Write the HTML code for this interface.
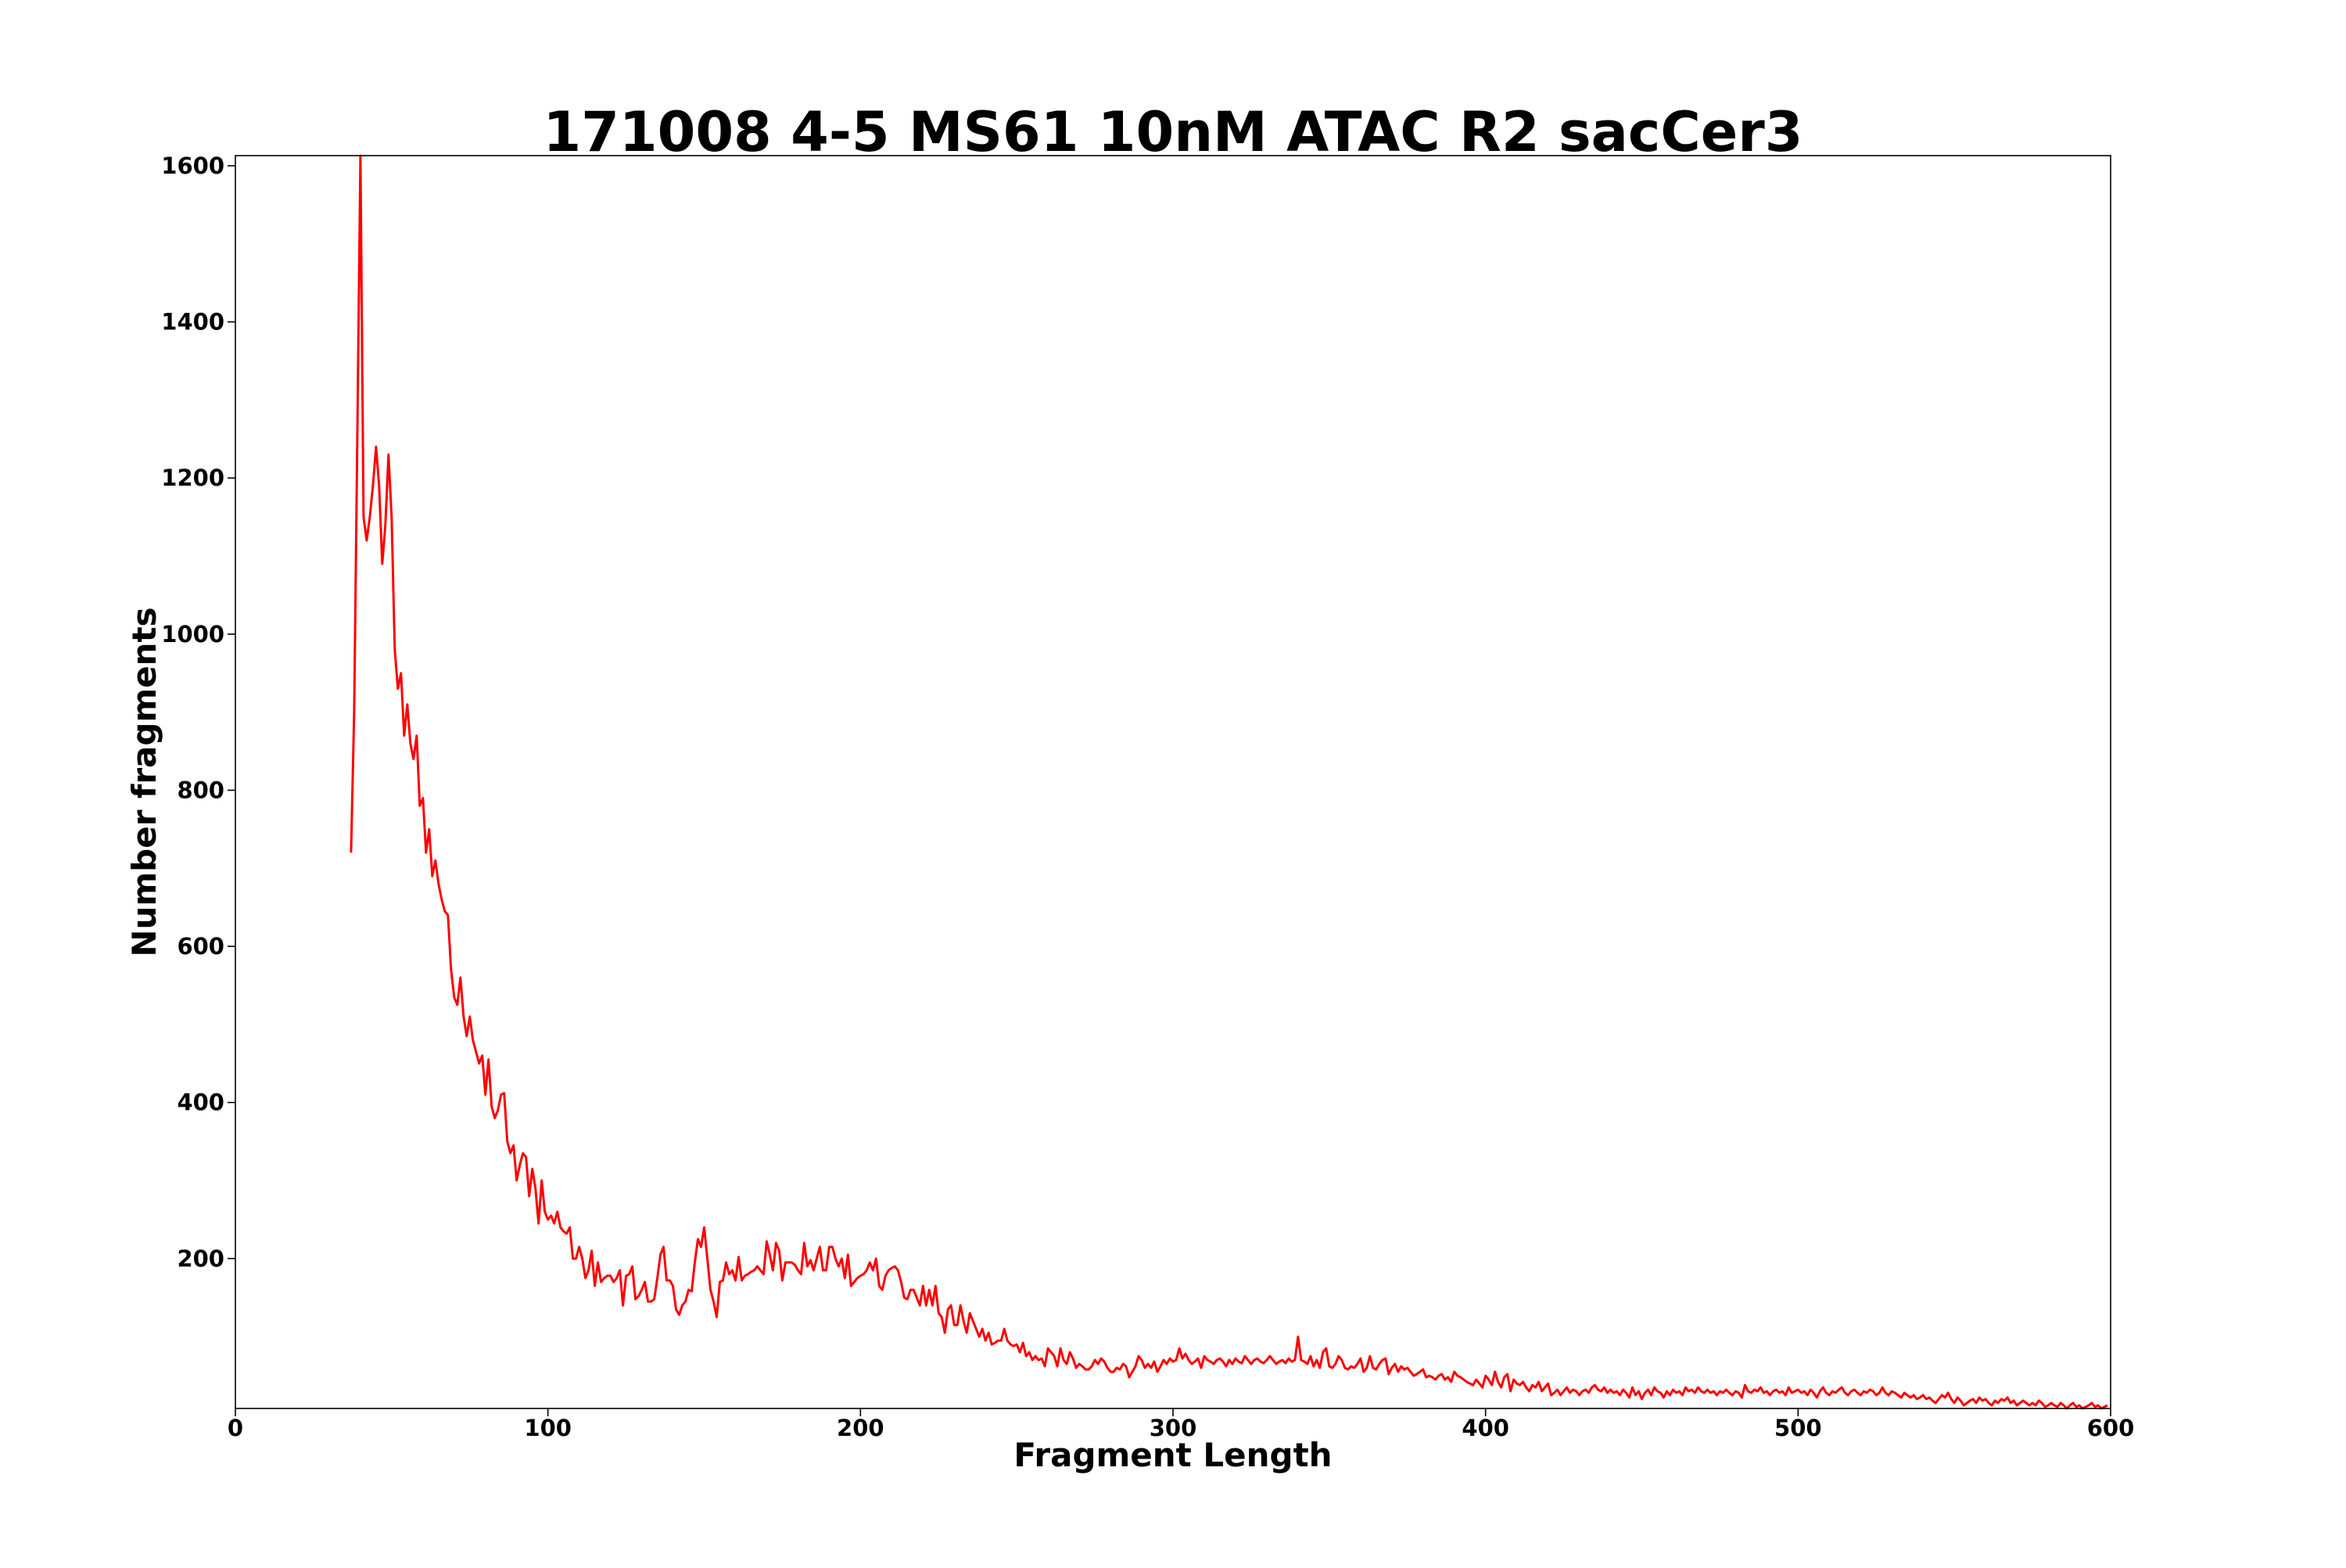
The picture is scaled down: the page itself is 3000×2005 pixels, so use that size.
<!DOCTYPE html>
<html><head><meta charset="utf-8"><style>
html,body{margin:0;padding:0;background:#fff;}
svg text{font-family:"DejaVu Sans","Liberation Sans",sans-serif;font-weight:bold;fill:#000;}
</style></head><body>
<svg id="chart" width="3000" height="2000" viewBox="0 0 3000 2000" xmlns="http://www.w3.org/2000/svg">
<rect width="3000" height="2000" fill="#fff"/>
<text x="1500" y="193" font-size="70" text-anchor="middle">171008 4-5 MS61 10nM ATAC R2 sacCer3</text>
<text x="1500" y="1875" font-size="42" text-anchor="middle">Fragment Length</text>
<text x="0" y="0" font-size="42" text-anchor="middle" transform="translate(199,1000) rotate(-90)">Number fragments</text>
<g id="plot"></g>
</svg>
<script>
const startLength = 37;
const counts = [720,900,1250,1613,1150,1120,1150,1190,1240,1190,1090,1140,1230,1150,980,930,950,870,910,860,840,870,780,790,720,750,690,710,680,660,645,640,570,535,525,560,510,485,510,480,465,450,460,410,455,395,380,390,410,412,350,335,345,300,320,335,330,280,315,290,245,300,260,250,255,245,260,240,235,232,240,200,200,215,200,175,185,210,165,195,170,175,178,178,170,175,185,140,178,180,190,148,152,160,170,145,145,148,175,205,215,172,172,165,135,128,140,145,160,158,195,225,215,240,200,160,145,125,170,172,195,180,185,172,202,172,178,180,183,185,190,185,180,222,205,185,220,210,172,195,195,195,192,185,180,220,190,198,185,200,215,185,185,215,215,200,190,200,175,205,165,170,175,178,180,185,195,185,200,165,160,178,185,188,190,185,170,150,148,160,160,150,140,165,140,160,140,165,130,125,105,135,140,115,115,140,120,105,130,120,110,100,110,95,105,90,92,95,95,110,95,90,88,90,80,92,75,80,70,75,70,72,62,85,
80,75,62,85,70,65,80,72,60,65,62,58,58,62,70,65,72,68,60,55,55,60,58,65,62,48,55,62,75,70,60,65,60,68,55,62,70,65,72,68,
70,85,72,78,70,65,68,72,60,75,70,68,65,70,72,68,62,70,65,72,68,66,75,70,65,70,72,68,66,70,75,70,65,68,70,66,72,68,70,100,
70,68,65,75,62,70,60,80,85,62,60,65,75,70,60,58,62,60,65,72,55,60,75,60,58,65,70,72,52,60,65,55,62,58,60,55,50,52,55,58,48,50,48,45,50,52,45,48,42,55,50,48,45,42,40,38,45,40,35,50,
45,38,55,42,35,48,52,30,45,40,38,42,35,30,38,35,42,30,35,40,25,28,32,25,30,35,28,32,30,25,30,32,28,35,38,32,30,35,28,32,28,30,25,32,28,22,35,25,30,20,
28,32,25,35,30,28,22,30,25,32,28,30,25,35,30,32,28,35,30,28,32,28,30,25,30,28,32,28,25,30,28,22,38,30,28,32,30,35,28,30,25,30,32,28,30,25,35,28,30,32,
28,30,25,32,28,22,30,35,28,25,30,28,32,35,28,25,30,32,28,25,30,28,32,30,25,28,35,28,25,30,28,25,22,28,25,22,25,20,22,25,20,22,18,15,20,25,22,28,20,15,
22,18,12,15,18,20,15,22,18,20,15,12,18,15,20,18,22,15,18,12,15,18,15,12,15,12,18,15,10,12,15,12,10,15,12,8,12,15,10,12,8,10,12,15,10,12,8,10,12];
const xTicks = [0,100,200,300,400,500,600];
const yTicks = [200,400,600,800,1000,1200,1400,1600];

const L=301,T=199,W=2398,H=1602;
const xMin=0,xMax=600;
const yMin=Math.min(...counts), yMax=Math.max(...counts);
const xs=v=>L+(v-xMin)/(xMax-xMin)*W;
const ys=v=>T+H-(v-yMin)/(yMax-yMin)*H;
const NS='http://www.w3.org/2000/svg';
const g=document.getElementById('plot');
function mk(tag,attrs){const e=document.createElementNS(NS,tag);for(const k in attrs)e.setAttribute(k,attrs[k]);return e;}

const pts=counts.map((c,i)=>xs(startLength+i).toFixed(1)+','+ys(c).toFixed(1)).join(' ');
const line=mk('polyline',{points:pts,fill:'none',stroke:'#ff0000','stroke-width':3,'stroke-linejoin':'round'});


g.appendChild(line);

const frame=mk('rect',{x:L,y:T,width:W,height:H,fill:'none',stroke:'#000','stroke-width':1.6});


g.appendChild(frame);

xTicks.forEach(t=>{
  const x=xs(t);
  const tk=mk('line',{x1:x,y1:T+H,x2:x,y2:T+H+10,stroke:'#000','stroke-width':1.6});
  
  
  g.appendChild(tk);
  const tx=mk('text',{x:x,y:T+H+35,'font-size':29,'text-anchor':'middle'});
  tx.textContent=t;
  
  
  g.appendChild(tx);
});
yTicks.forEach(t=>{
  const y=ys(t);
  const tk=mk('line',{x1:L-10,y1:y,x2:L,y2:y,stroke:'#000','stroke-width':1.6});
  
  
  g.appendChild(tk);
  const tx=mk('text',{x:L-14,y:y+10,'font-size':29,'text-anchor':'end'});
  tx.textContent=t;
  
  
  g.appendChild(tx);
});
</script>
</body></html>
